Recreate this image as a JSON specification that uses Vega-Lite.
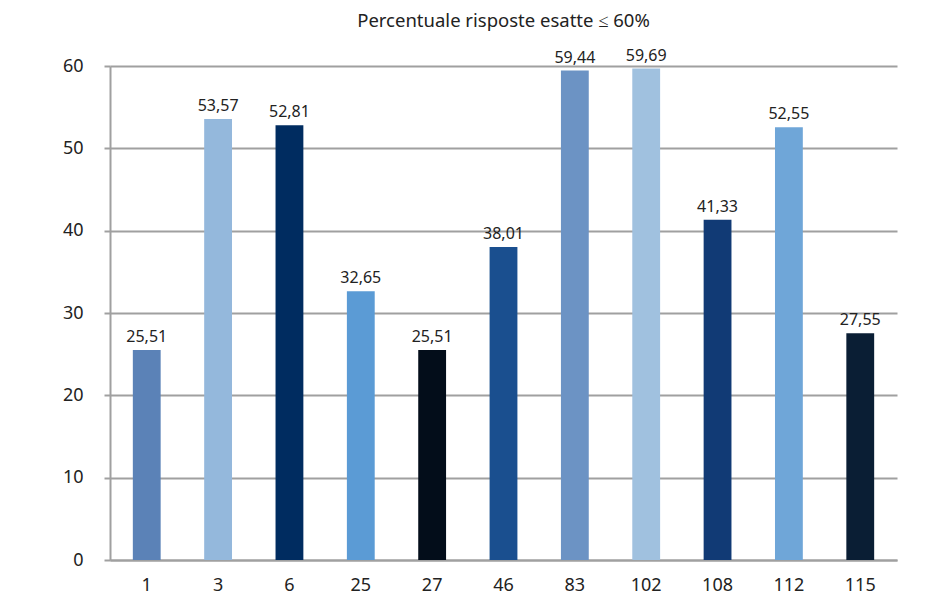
{
  "$schema": "https://vega.github.io/schema/vega-lite/v6.json",
  "autosize": "none",
  "width": 787,
  "height": 494,
  "padding": {"left": 110, "top": 66, "right": 43, "bottom": 47},
  "background": "white",
  "config": {
    "locale": {"number": {"decimal": ",", "thousands": ".", "grouping": [3], "currency": ["", " €"]}},
    "view": {"stroke": null},
    "font": "Noto Sans"
  },
  "title": {
    "text": "Percentuale risposte esatte ≤ 60%",
    "font": "Noto Sans",
    "fontSize": 18.5,
    "fontWeight": "normal",
    "color": "#222222",
    "anchor": "middle",
    "offset": 17
  },
  "data": {
    "values": [
      {"domanda": "1", "percentuale": 25.51},
      {"domanda": "3", "percentuale": 53.57},
      {"domanda": "6", "percentuale": 52.81},
      {"domanda": "25", "percentuale": 32.65},
      {"domanda": "27", "percentuale": 25.51},
      {"domanda": "46", "percentuale": 38.01},
      {"domanda": "83", "percentuale": 59.44},
      {"domanda": "102", "percentuale": 59.69},
      {"domanda": "108", "percentuale": 41.33},
      {"domanda": "112", "percentuale": 52.55},
      {"domanda": "115", "percentuale": 27.55}
    ]
  },
  "encoding": {
    "x": {
      "field": "domanda",
      "type": "nominal",
      "sort": null,
      "scale": {"paddingInner": 0.61, "paddingOuter": 0.32},
      "axis": {
        "title": null,
        "labelAngle": 0,
        "labelFontSize": 18,
        "labelColor": "#222222",
        "labelPadding": 16,
        "ticks": false,
        "domainColor": "#a0a0a0",
        "domainWidth": 2
      }
    },
    "y": {
      "field": "percentuale",
      "type": "quantitative",
      "scale": {"domain": [0, 60], "nice": false},
      "axis": {
        "title": null,
        "values": [0, 10, 20, 30, 40, 50, 60],
        "labelFontSize": 18,
        "labelColor": "#222222",
        "labelPadding": 21,
        "tickSize": 6,
        "tickColor": "#a0a0a0",
        "tickWidth": 2,
        "domainColor": "#a0a0a0",
        "domainWidth": 2,
        "grid": true,
        "gridColor": "#a0a0a0",
        "gridWidth": 2
      }
    }
  },
  "layer": [
    {
      "mark": {"type": "bar"},
      "encoding": {
        "color": {
          "field": "domanda",
          "type": "nominal",
          "sort": null,
          "legend": null,
          "scale": {
            "domain": ["1", "3", "6", "25", "27", "46", "83", "102", "108", "112", "115"],
            "range": ["#5b82b7", "#94b8dc", "#002c60", "#5b9bd5", "#030d1a", "#1a4f8f", "#6c93c4", "#a0c1df", "#113a75", "#6fa6d8", "#0a1e34"]
          }
        }
      }
    },
    {
      "mark": {"type": "text", "baseline": "bottom", "dy": -5, "fontSize": 16, "color": "#222222"},
      "encoding": {
        "text": {"field": "percentuale", "type": "quantitative", "format": ".2f"}
      }
    }
  ]
}
